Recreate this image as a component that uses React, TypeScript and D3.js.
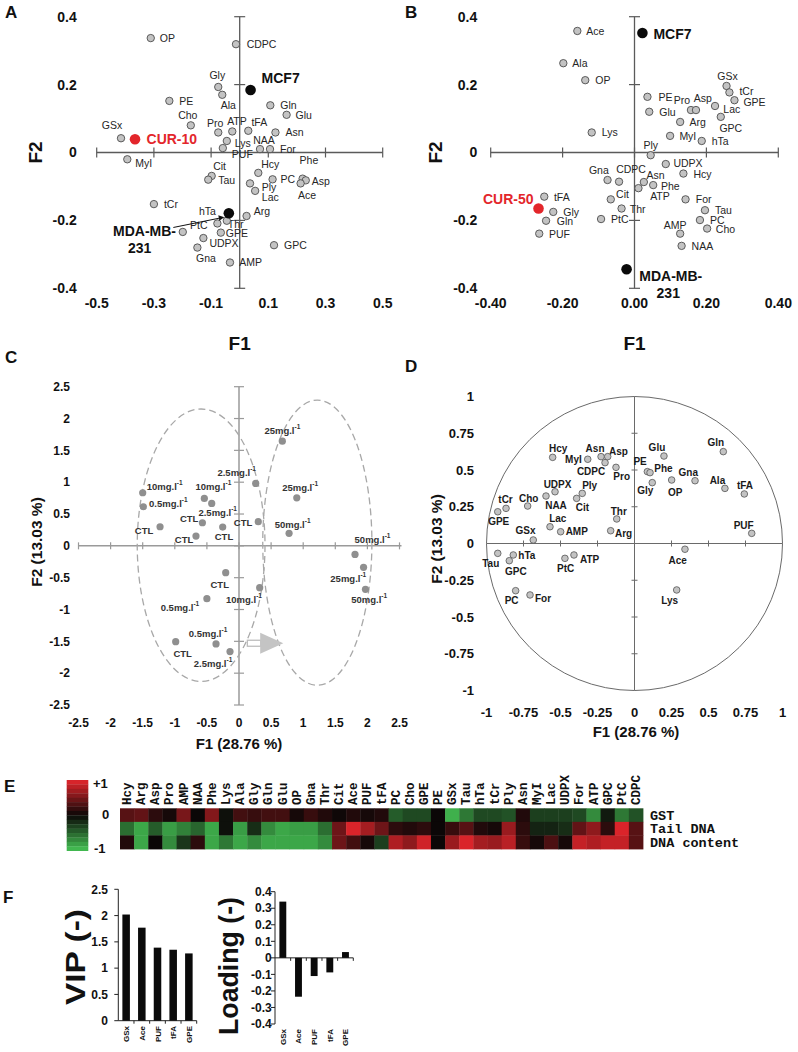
import React from 'react';
import * as d3 from 'd3';

// ---------------- DATA ----------------
// Panel A (CUR-10 biplot)
const A_NAMES = ['OP','CDPC','Gly','Ala','PE','Gln','Glu','Cho','GSx','Pro','ATP','tFA','Asn','Lys','PUF','NAA','For','MyI','Cit','Tau','Hcy','PC','Phe','Asp','Ace','Ply','Lac','tCr','Arg','hTa','Thr','PtC','GPE','UDPX','Gna','AMP','GPC'];
const A_F1 = [-0.311,-0.013,-0.075,-0.061,-0.246,0.107,0.164,-0.171,-0.415,-0.075,-0.026,0.030,0.125,-0.045,-0.059,0.071,0.106,-0.393,-0.098,-0.110,0.065,0.115,0.220,0.231,0.213,0.036,0.054,-0.300,0.024,-0.078,-0.045,-0.199,-0.066,-0.127,-0.148,-0.034,0.120];
const A_F2 = [0.337,0.319,0.193,0.170,0.152,0.139,0.111,0.080,0.042,0.059,0.062,0.064,0.059,0.034,0.013,0.010,0.010,-0.020,-0.069,-0.080,-0.060,-0.079,-0.077,-0.082,-0.091,-0.091,-0.113,-0.152,-0.187,-0.209,-0.201,-0.234,-0.236,-0.252,-0.280,-0.324,-0.273];
const A_GROUPS = ['MCF7','CUR-10','MDA-MB-231'];
const A_GROUP_F1 = [0.038,-0.366,-0.038];
const A_GROUP_F2 = [0.184,0.039,-0.179];
const A_XTICKS = [-0.5,-0.3,-0.1,0.1,0.3,0.5];
const AB_YTICKS = [0.4,0.2,0,-0.2,-0.4];

// Panel B (CUR-50 biplot)
const B_NAMES = ['Ace','Ala','OP','GSx','tCr','GPE','PE','Pro','Asp','Lac','Glu','GPC','Arg','Lys','MyI','hTa','Ply','UDPX','Hcy','Gna','CDPC','Asn','Phe','ATP','tFA','Cit','For','Gly','Thr','Tau','Gln','PtC','PC','Cho','PUF','AMP','NAA'];
const B_F1 = [-0.159,-0.198,-0.137,0.256,0.264,0.278,0.036,0.157,0.171,0.224,0.041,0.240,0.127,-0.119,0.099,0.187,0.045,0.087,0.136,-0.075,-0.043,0.026,0.052,0.011,-0.251,-0.066,0.142,-0.226,-0.036,0.196,-0.246,-0.093,0.182,0.202,-0.265,0.127,0.131];
const B_F2 = [0.358,0.263,0.213,0.196,0.177,0.154,0.164,0.125,0.125,0.137,0.120,0.105,0.090,0.059,0.049,0.034,-0.008,-0.034,-0.062,-0.081,-0.086,-0.087,-0.096,-0.105,-0.130,-0.138,-0.138,-0.175,-0.165,-0.170,-0.201,-0.196,-0.199,-0.224,-0.239,-0.239,-0.275];
const B_GROUPS = ['MCF7','CUR-50','MDA-MB-231'];
const B_GROUP_F1 = [0.022,-0.267,-0.022];
const B_GROUP_F2 = [0.352,-0.165,-0.344];
const B_XTICKS = [-0.4,-0.2,0,0.2,0.4];

// Panel C (PCA scores)
const C_LABELS = ['25','2.5','25','50','10','0.5','CTL','10','2.5','CTL','CTL','CTL','CTL','50','25','50','CTL','10','0.5','0.5','CTL','2.5'];
const C_F1 = [0.675,0.26,0.90,0.78,-1.50,-1.49,-1.23,-0.54,-0.425,-0.57,-0.67,-0.254,0.30,1.807,1.94,1.97,-0.207,0.322,-0.50,-0.358,-0.986,-0.14];
const C_F2 = [1.645,0.98,0.755,0.196,0.834,0.614,0.30,0.745,0.667,0.363,0.154,0.295,0.379,-0.134,-0.338,-0.683,-0.422,-0.657,-0.83,-1.54,-1.505,-1.66];
const C_ELL_CX = [-0.59,1.22];
const C_ELL_CY = [0.01,0.05];
const C_ELL_RX = [0.995,0.85];
const C_ELL_RY = [2.14,2.24];
const C_TICKS = [-2.5,-2,-1.5,-1,-0.5,0,0.5,1,1.5,2,2.5];

// Panel D (correlation circle)
const D_NAMES = ['Hcy','MyI','Asn','Asp','CDPC','Pro','Glu','PE','Phe','Gly','OP','Gna','Gln','Ala','tFA','PUF','UDPX','Cho','NAA','Ply','Cit','tCr','GPE','Thr','Lac','AMP','Arg','GSx','Tau','hTa','GPC','ATP','PtC','Ace','PC','For','Lys'];
const D_F1 = [-0.553,-0.316,-0.226,-0.181,-0.199,-0.125,0.199,0.087,0.105,0.120,0.251,0.409,0.600,0.611,0.742,0.792,-0.537,-0.722,-0.598,-0.353,-0.391,-0.868,-0.924,-0.120,-0.571,-0.499,-0.161,-0.684,-0.924,-0.819,-0.846,-0.409,-0.470,0.341,-0.803,-0.706,0.285];
const D_F2 = [0.586,0.573,0.591,0.591,0.550,0.518,0.595,0.489,0.482,0.414,0.432,0.427,0.625,0.375,0.337,0.069,0.352,0.255,0.323,0.341,0.307,0.239,0.216,0.167,0.114,0.080,0.087,0.024,-0.067,-0.078,-0.117,-0.078,-0.101,-0.039,-0.321,-0.350,-0.316];
const D_TICKS = [-1,-0.75,-0.5,-0.25,0,0.25,0.5,0.75,1];

// Panel E (heatmap of correlations)
const HM_NAMES = ['Hcy','Arg','Asp','Pro','AMP','NAA','Phe','Lys','Ala','Gly','Gln','Glu','OP','Gna','Thr','Cit','Ace','PUF','tFA','PC','Cho','GPE','PE','GSx','Tau','hTa','tCr','Ply','Asn','MyI','Lac','UDPX','For','ATP','GPC','PtC','CDPC'];
const HM_ROWS = ['GST','Tail DNA','DNA content'];
const HM_GST = [0.35,0.4,0.15,0.05,0.5,0.0,0.55,-0.05,0.25,0.2,0.25,0.25,0.05,0.2,0.1,0.02,0.1,0.05,0.1,-0.45,-0.35,-0.35,0.0,-0.9,-0.6,-0.35,-0.35,-0.4,0.1,-0.3,-0.3,-0.3,-0.35,-0.7,-0.1,-0.6,-0.4];
const HM_TAIL = [-0.55,-0.85,-0.45,-0.8,-0.65,-0.5,-0.85,-0.05,-0.8,-0.2,-0.7,-0.85,-0.8,-0.8,-0.55,0.45,0.95,0.7,0.45,0.15,0.1,0.15,0.0,0.2,0.35,0.1,0.05,0.65,0.15,-0.15,-0.15,-0.2,0.4,0.6,0.15,0.95,0.35];
const HM_CONTENT = [0.1,-0.85,0.0,-0.7,-0.25,0.15,-0.85,-0.6,-0.85,-0.7,-0.85,-0.85,-0.85,-0.85,-0.7,0.45,0.25,0.05,-0.3,0.75,0.6,0.9,0.0,0.65,0.95,0.7,0.65,0.8,0.2,0.05,0.3,0.05,0.85,0.75,0.85,0.85,0.35];

// Panel F (PLS)
const F_NAMES = ['GSx','Ace','PUF','tFA','GPE'];
const F_VIP = [2.02,1.77,1.39,1.35,1.28];
const F_LOADING = [0.34,-0.235,-0.11,-0.088,0.035];
const F_VIP_TICKS = [0,0.5,1,1.5,2,2.5];
const F_LOAD_TICKS = [0.4,0.3,0.2,0.1,0,-0.1,-0.2,-0.3,-0.4];

// ---------------- LAYOUT (label placement: dx, dy, anchor) ----------------
type L = [number, number, string];
const A_LBL: Record<string, L> = {
  OP:[9,0,'s'],CDPC:[10.7,0,'s'],Gly:[-1,-12,'m'],Ala:[6,10,'m'],PE:[10,0,'s'],Gln:[10,0,'s'],Glu:[9,0,'s'],
  Cho:[-3,-10,'m'],GSx:[-9,-13,'m'],Pro:[-3,-9,'m'],ATP:[4.7,-10,'m'],tFA:[11,-9,'m'],Asn:[10,0,'s'],Lys:[8,2,'s'],
  PUF:[9,6,'s'],NAA:[4,-9,'m'],For:[10,0,'s'],MyI:[8,4,'s'],Cit:[1.5,-10,'s'],Tau:[10,0,'s'],Hcy:[3,-8.6,'s'],
  PC:[8,0,'s'],Phe:[6.3,-18.6,'m'],Asp:[6,0.7,'s'],Ace:[-2.7,12,'s'],Ply:[11.7,4,'s'],Lac:[6.7,6.6,'s'],tCr:[10,0,'s'],
  Arg:[7.3,-5,'s'],hTa:[-10,-12.7,'m'],Thr:[1,3.3,'s'],PtC:[7.3,-7,'s'],GPE:[5,0,'s'],UDPX:[6,5,'s'],Gna:[-1.3,10.7,'s'],
  AMP:[9.3,0,'s'],GPC:[10,0,'s'],
};
const B_LBL: Record<string, L> = {
  Ace:[9,0,'s'],Ala:[9,0,'s'],OP:[10,0,'s'],GSx:[1,-10,'m'],tCr:[10,-1,'s'],GPE:[9,1.7,'s'],PE:[11,0,'s'],
  Pro:[-9,-10,'m'],Asp:[6.7,-11.7,'m'],Lac:[8.3,2.7,'s'],Glu:[10,0,'s'],GPC:[-1.4,10.7,'s'],Arg:[9.3,0,'s'],
  Lys:[10,0,'s'],MyI:[9.3,0,'s'],hTa:[10,0,'s'],Ply:[0,-10,'m'],UDPX:[7.6,-1,'s'],Hcy:[10,0,'s'],Gna:[-8.7,-10,'m'],
  CDPC:[12,-13,'m'],Asn:[2.7,-7,'s'],Phe:[7.7,1,'s'],ATP:[11.7,8.3,'s'],tFA:[9.7,0,'s'],Cit:[5.3,-5,'s'],For:[10.3,0,'s'],
  Gly:[10,0,'s'],Thr:[8.3,0,'s'],Tau:[10,0,'s'],Gln:[10.7,0,'s'],PtC:[10,0,'s'],PC:[10,0,'s'],Cho:[8.7,0,'s'],
  PUF:[9.7,0,'s'],AMP:[-5,-8.3,'m'],NAA:[10,0,'s'],
};
const C_LBL: L[] = [
  [0,-11,'m'],[-19,-11.6,'m'],[3.3,-10.4,'m'],[3.5,-9.3,'m'],[4,-6.7,'s'],[5.7,-4,'s'],[-6.7,3.3,'e'],[9,-12.3,'m'],
  [6,8.4,'m'],[-4,-4.4,'e'],[-2.7,3.3,'e'],[1.3,9.7,'m'],[-6,1,'e'],[17.5,-15,'m'],[-15.3,11,'m'],[3.7,10,'m'],
  [-6,11.3,'m'],[-15.7,11.6,'m'],[-7.7,8,'e'],[-8,-10.7,'m'],[7,11.6,'m'],[-17,11,'m'],
];
const D_LBL: Record<string, L> = {
  Hcy:[5.6,-9,'m'],MyI:[-6,0.7,'e'],Asn:[-6,-8.4,'m'],Asp:[1.3,-5,'s'],CDPC:[-14,9,'m'],Pro:[5.7,9.4,'m'],
  Glu:[-7,-8.7,'m'],PE:[-7.3,-10,'m'],Phe:[4.3,-4.4,'s'],Gly:[-7,8,'m'],OP:[3.6,12.3,'m'],Gna:[-6.7,-8,'m'],
  Gln:[-7.5,-9.4,'m'],Ala:[-7.5,-8.3,'m'],tFA:[0.7,-8.3,'m'],PUF:[-8,-8.3,'m'],UDPX:[2.5,-7.4,'m'],Cho:[1,-7.7,'m'],
  NAA:[10,9.7,'m'],Ply:[7.4,-8.3,'m'],Cit:[5.8,9,'m'],tCr:[-0.5,-9,'m'],GPE:[1,10,'m'],Thr:[2,-7.3,'m'],
  Lac:[7.8,-8.4,'m'],AMP:[5,0,'s'],Arg:[4.3,2.6,'s'],GSx:[-7.8,-9.3,'m'],Tau:[-7,10,'m'],hTa:[5,0.7,'s'],
  GPC:[6.5,11,'m'],ATP:[6,4.3,'s'],PtC:[0.8,10,'m'],Ace:[-7.2,11.7,'m'],PC:[-4,10,'m'],For:[5,3.3,'s'],Lys:[-7,10.7,'m'],
};

const SANS = "'Liberation Sans', Arial, Helvetica, sans-serif";
const MONO = "'Liberation Mono', 'Courier New', monospace";
const anc = (a: string) => (a === 's' ? 'start' : a === 'm' ? 'middle' : 'end');
const fmtTrim = (v: number) => String(+v.toFixed(2));

// scales
const xA = d3.scaleLinear().domain([-0.5, 0.5]).range([96.7, 382.7]);
const yA = d3.scaleLinear().domain([-0.4, 0.4]).range([288.3, 16.7]);
const xB = d3.scaleLinear().domain([-0.4, 0.4]).range([490.7, 778.3]);
const yB = yA;
const xC = d3.scaleLinear().domain([-2.5, 2.5]).range([78.5, 399.5]);
const yC = d3.scaleLinear().domain([-2.5, 2.5]).range([705, 386.7]);
const xD = d3.scaleLinear().domain([-1, 1]).range([486.5, 782.5]);
const yD = d3.scaleLinear().domain([-1, 1]).range([690.5, 396.5]);
const xHM = d3.scaleBand<string>().domain(HM_NAMES).range([120, 643]);
const yHM = d3.scaleBand<string>().domain(HM_ROWS).range([808.3, 849]);
const heat = (v: number) =>
  v >= 0 ? d3.interpolateRgb('#0b0707', '#e5262c')(v) : d3.interpolateRgb('#0b0707', '#45c354')(-v);
const xV = d3.scaleBand<string>().domain(F_NAMES).range([118.3, 196.7]).paddingInner(0.52).paddingOuter(0.26);
const yV = d3.scaleLinear().domain([0, 2.5]).range([1020.7, 889.3]);
const xL = d3.scaleBand<string>().domain(F_NAMES).range([275, 353.3]).paddingInner(0.56).paddingOuter(0.28);
const yL = d3.scaleLinear().domain([-0.4, 0.4]).range([1024, 891.7]);

function Biplot(props: any) {
  const { names, f1, f2, x, y, lbl } = props;
  return (
    <g>
      {names.map((n: string, i: number) => {
        const px = x(f1[i]);
        const py = y(f2[i]);
        const [dx, dy, a] = lbl[n] || [9, 0, 's'];
        return (
          <g key={n}>
            <text x={px + dx} y={py + dy} textAnchor={anc(a)} dominantBaseline="central" fontSize={10.5} fontFamily={SANS} fill="#262626">{n}</text>
            <circle cx={px} cy={py} r={3.7} fill="#c3c3c3" stroke="#4d4d4d" strokeWidth={0.9} />
          </g>
        );
      })}
    </g>
  );
}

function BiAxes(props: any) {
  const { x, y, xticks, xfmt, ylabX, letter, letterX, f2X } = props;
  const x0 = x(0), y0 = y(0);
  const [xmin, xmax] = x.domain();
  const stroke = '#5a5a5a';
  return (
    <g fontFamily={SANS}>
      <line x1={x0} x2={x0} y1={y(0.4)} y2={y(-0.4)} stroke={stroke} strokeWidth={1.3} />
      <line x1={x(xmin)} x2={x(xmax)} y1={y0} y2={y0} stroke={stroke} strokeWidth={1.3} />
      {xticks.map((t: number) => (
        <line key={'xt' + t} x1={x(t)} x2={x(t)} y1={y0 - 5} y2={y0 + 5} stroke={stroke} strokeWidth={1.2} />
      ))}
      {AB_YTICKS.filter((t) => t !== 0).map((t) => (
        <line key={'yt' + t} x1={x0 - 5.5} x2={x0 + 5.5} y1={y(t)} y2={y(t)} stroke={stroke} strokeWidth={1.2} />
      ))}
      {xticks.map((t: number) => (
        <text key={'xl' + t} x={x(t)} y={308} textAnchor="middle" fontSize={14} fontWeight="bold" fill="#111">{xfmt(t)}</text>
      ))}
      {AB_YTICKS.map((t) => (
        <text key={'yl' + t} x={ylabX} y={y(t)} dy="0.35em" textAnchor="end" fontSize={14} fontWeight="bold" fill="#111">{fmtTrim(t)}</text>
      ))}
      <text transform={`translate(${f2X},${y0}) rotate(-90)`} textAnchor="middle" fontSize={19} fontWeight="bold" fill="#111">F2</text>
      <text x={(x(xmin) + x(xmax)) / 2} y={350} textAnchor="middle" fontSize={19} fontWeight="bold" fill="#111">F1</text>
      <text x={letterX} y={18} fontSize={17} fontWeight="bold" fill="#111">{letter}</text>
    </g>
  );
}

function Dose(props: any) {
  const { label, x, y, a } = props;
  if (label === 'CTL') {
    return <text x={x} y={y} textAnchor={a} dominantBaseline="central" fontSize={9.5} fontWeight="bold" fill="#333" fontFamily={SANS}>CTL</text>;
  }
  return (
    <text x={x} y={y} textAnchor={a} dominantBaseline="central" fontSize={9.5} fontWeight="bold" fill="#333" fontFamily={SANS}>
      <tspan>{label}mg.l</tspan>
      <tspan dy={-4} fontSize={6.5}>-1</tspan>
    </text>
  );
}

export default function App() {
  const cx0 = xC(0), cy0 = yC(0);
  const dx0 = xD(0), dy0 = yD(0);
  const aMda = [xA(A_GROUP_F1[2]), yA(A_GROUP_F2[2])];
  const arrowY = yC(-1.53);
  return (
    <svg width={798} height={1052} style={{ position: 'absolute', left: 0, top: 0, background: '#fff' }} fontFamily={SANS}>
      <rect width={798} height={1052} fill="#fff" />

      {/* ---------- Panel A ---------- */}
      <BiAxes x={xA} y={yA} xticks={A_XTICKS} xfmt={(t: number) => String(t)} ylabX={76.7} letter="A" letterX={5} f2X={41.5} />
      <Biplot names={A_NAMES} f1={A_F1} f2={A_F2} x={xA} y={yA} lbl={A_LBL} />
      {/* groups A */}
      <circle cx={xA(A_GROUP_F1[0])} cy={yA(A_GROUP_F2[0])} r={5.3} fill="#0a0a0a" />
      <text x={xA(A_GROUP_F1[0]) + 11} y={yA(A_GROUP_F2[0]) - 12} dominantBaseline="central" fontSize={14} fontWeight="bold" fill="#111">{A_GROUPS[0]}</text>
      <circle cx={xA(A_GROUP_F1[1])} cy={yA(A_GROUP_F2[1])} r={5.3} fill="#e3262b" />
      <text x={xA(A_GROUP_F1[1]) + 11.5} y={yA(A_GROUP_F2[1])} dominantBaseline="central" fontSize={14} fontWeight="bold" fill="#e3262b">{A_GROUPS[1]}</text>
      <circle cx={aMda[0]} cy={aMda[1]} r={5.3} fill="#0a0a0a" />
      <line x1={aMda[0] - 55.5} y1={aMda[1] + 14.2} x2={aMda[0] - 9} y2={aMda[1] + 4.8} stroke="#111" strokeWidth={1} />
      <path d={`M${aMda[0] - 4.5},${aMda[1] + 3.9} L${aMda[0] - 10.5},${aMda[1] + 2} L${aMda[0] - 9.5},${aMda[1] + 7.6} Z`} fill="#111" />
      <text x={113} y={aMda[1] + 23} fontSize={14} fontWeight="bold" fill="#111">MDA-MB-</text>
      <text x={128} y={aMda[1] + 39.5} fontSize={14} fontWeight="bold" fill="#111">231</text>

      {/* ---------- Panel B ---------- */}
      <BiAxes x={xB} y={yB} xticks={B_XTICKS} xfmt={(t: number) => t.toFixed(2)} ylabX={477.3} letter="B" letterX={405} f2X={441.7} />
      <Biplot names={B_NAMES} f1={B_F1} f2={B_F2} x={xB} y={yB} lbl={B_LBL} />
      <circle cx={xB(B_GROUP_F1[0])} cy={yB(B_GROUP_F2[0])} r={5.3} fill="#0a0a0a" />
      <text x={xB(B_GROUP_F1[0]) + 11} y={yB(B_GROUP_F2[0]) + 1} dominantBaseline="central" fontSize={14} fontWeight="bold" fill="#111">{B_GROUPS[0]}</text>
      <circle cx={xB(B_GROUP_F1[1])} cy={yB(B_GROUP_F2[1])} r={5.3} fill="#e3262b" />
      <text x={xB(B_GROUP_F1[1]) - 5} y={yB(B_GROUP_F2[1]) - 10} textAnchor="end" dominantBaseline="central" fontSize={14} fontWeight="bold" fill="#e3262b">{B_GROUPS[1]}</text>
      <circle cx={xB(B_GROUP_F1[2])} cy={yB(B_GROUP_F2[2])} r={5.3} fill="#0a0a0a" />
      <text x={xB(B_GROUP_F1[2]) + 12.7} y={yB(B_GROUP_F2[2]) + 6.7} dominantBaseline="central" fontSize={14} fontWeight="bold" fill="#111">MDA-MB-</text>
      <text x={xB(B_GROUP_F1[2]) + 30} y={yB(B_GROUP_F2[2]) + 23.3} dominantBaseline="central" fontSize={14} fontWeight="bold" fill="#111">231</text>

      {/* ---------- Panel C ---------- */}
      <g>
        <text x={5} y={363} fontSize={17} fontWeight="bold" fill="#111">C</text>
        <line x1={cx0} x2={cx0} y1={yC(2.5)} y2={yC(-2.5)} stroke="#9a9a9a" strokeWidth={1.5} />
        <line x1={xC(-2.5)} x2={xC(2.5) + 2} y1={cy0} y2={cy0} stroke="#9a9a9a" strokeWidth={1.5} />
        {C_TICKS.map((t) => (
          <line key={'cxt' + t} x1={xC(t)} x2={xC(t)} y1={cy0 - 3.5} y2={cy0 + 3.5} stroke="#9a9a9a" strokeWidth={1.2} />
        ))}
        {C_TICKS.map((t) => (
          <line key={'cyt' + t} x1={cx0 - 5} x2={cx0 + 5} y1={yC(t)} y2={yC(t)} stroke="#9a9a9a" strokeWidth={1.2} />
        ))}
        {C_TICKS.map((t) => (
          <text key={'cxl' + t} x={xC(t)} y={727} textAnchor="middle" fontSize={12} fontWeight="bold" fill="#111">{String(t)}</text>
        ))}
        {C_TICKS.map((t) => (
          <text key={'cyl' + t} x={70} y={yC(t)} dy="0.35em" textAnchor="end" fontSize={12} fontWeight="bold" fill="#111">{String(t)}</text>
        ))}
        <text transform={`translate(42,542) rotate(-90)`} textAnchor="middle" fontSize={15.5} fontWeight="bold" fill="#111">F2 (13.03 %)</text>
        <text x={239} y={749} textAnchor="middle" fontSize={15} fontWeight="bold" fill="#111">F1 (28.76 %)</text>
        {C_ELL_CX.map((c, i) => (
          <ellipse key={'ell' + i} cx={xC(c)} cy={yC(C_ELL_CY[i])} rx={xC(C_ELL_RX[i]) - xC(0)} ry={yC(0) - yC(C_ELL_RY[i])}
            fill="none" stroke="#a8a8a8" strokeWidth={1.3} strokeDasharray="7 4" />
        ))}
        {/* arrow */}
        <rect x={xC(0.13)} y={arrowY - 3} width={xC(0.34) - xC(0.13)} height={6} fill="#fff" stroke="#bdbdbd" strokeWidth={1.3} />
        <path d={`M${xC(0.33)},${arrowY - 10.5} L${xC(0.69)},${arrowY} L${xC(0.33)},${arrowY + 10.5} Z`} fill="#c4c4c4" />
        {C_LABELS.map((lab, i) => {
          const px = xC(C_F1[i]);
          const py = yC(C_F2[i]);
          const [dx, dy, a] = C_LBL[i];
          return (
            <g key={'c' + i}>
              <circle cx={px} cy={py} r={3.6} fill="#8f8f8f" />
              <Dose label={lab} x={px + dx} y={py + dy} a={anc(a)} />
            </g>
          );
        })}
      </g>

      {/* ---------- Panel D ---------- */}
      <g>
        <text x={405} y={372} fontSize={17} fontWeight="bold" fill="#111">D</text>
        <ellipse cx={dx0} cy={dy0} rx={xD(1) - dx0} ry={dy0 - yD(1)} fill="none" stroke="#6a6a6a" strokeWidth={1} />
        <line x1={dx0} x2={dx0} y1={yD(1)} y2={yD(-1)} stroke="#6a6a6a" strokeWidth={1} />
        <line x1={xD(-1)} x2={xD(1)} y1={dy0} y2={dy0} stroke="#6a6a6a" strokeWidth={1} />
        {D_TICKS.filter((t) => Math.abs(t) < 1 && t !== 0).map((t) => (
          <g key={'dt' + t}>
            <line x1={xD(t)} x2={xD(t)} y1={dy0 - 3} y2={dy0 + 3} stroke="#6a6a6a" strokeWidth={1} />
            <line x1={dx0 - 3} x2={dx0 + 3} y1={yD(t)} y2={yD(t)} stroke="#6a6a6a" strokeWidth={1} />
          </g>
        ))}
        {D_TICKS.map((t) => (
          <text key={'dxl' + t} x={xD(t)} y={717} textAnchor="middle" fontSize={13} fontWeight="bold" fill="#111">{String(t)}</text>
        ))}
        {D_TICKS.map((t) => (
          <text key={'dyl' + t} x={474} y={yD(t)} dy="0.35em" textAnchor="end" fontSize={13} fontWeight="bold" fill="#111">{String(t)}</text>
        ))}
        <text transform={`translate(442,539) rotate(-90)`} textAnchor="middle" fontSize={15.5} fontWeight="bold" fill="#111">F2 (13.03 %)</text>
        <text x={636} y={737} textAnchor="middle" fontSize={15} fontWeight="bold" fill="#111">F1 (28.76 %)</text>
        {D_NAMES.map((n, i) => {
          const px = xD(D_F1[i]);
          const py = yD(D_F2[i]);
          const [ddx, ddy, a] = D_LBL[n] || [6, 0, 's'];
          return (
            <g key={'d' + n}>
              <text x={px + ddx} y={py + ddy} textAnchor={anc(a)} dominantBaseline="central" fontSize={10} fontWeight="bold" fill="#1a1a1a">{n}</text>
              <circle cx={px} cy={py} r={3.3} fill="#c3c3c3" stroke="#555" strokeWidth={0.8} />
            </g>
          );
        })}
      </g>

      {/* ---------- Panel E ---------- */}
      <g>
        <text x={4} y={792} fontSize={17} fontWeight="bold" fill="#111">E</text>
        {d3.range(16).map((k) => {
          const v = 1 - (2 * k + 1) / 16;
          return <rect key={'cb' + k} x={66.7} y={780 + (k * 70.7) / 16} width={21.6} height={70.7 / 16 + 0.3} fill={heat(v)} />;
        })}
        <text x={93} y={788} fontSize={13} fontWeight="bold" fill="#111">+1</text>
        <text x={102} y={819} fontSize={13} fontWeight="bold" fill="#111">0</text>
        <text x={94} y={853} fontSize={13} fontWeight="bold" fill="#111">-1</text>
        {[HM_GST, HM_TAIL, HM_CONTENT].map((row, r) =>
          row.map((v, c) => (
            <rect key={'hm' + r + '-' + c} x={xHM(HM_NAMES[c])!} y={yHM(HM_ROWS[r])!} width={xHM.bandwidth() + 0.4} height={yHM.bandwidth() + 0.4} fill={heat(v)} />
          ))
        )}
        {HM_NAMES.map((n) => (
          <text key={'hl' + n} transform={`translate(${xHM(n)! + xHM.bandwidth() / 2 + 4},805) rotate(-90)`} fontSize={12.5} fontWeight="bold" fontFamily={MONO} fill="#111">{n}</text>
        ))}
        {HM_ROWS.map((r) => (
          <text key={'hr' + r} x={650} y={yHM(r)! + yHM.bandwidth() / 2} dy="0.35em" fontSize={13.5} fontWeight="bold" fontFamily={MONO} fill="#111">{r}</text>
        ))}
      </g>

      {/* ---------- Panel F ---------- */}
      <g>
        <text x={3} y={903} fontSize={17} fontWeight="bold" fill="#111">F</text>
        {/* VIP */}
        <line x1={118.3} x2={118.3} y1={yV(2.5)} y2={yV(0)} stroke="#222" strokeWidth={1} />
        <line x1={118.3} x2={196.7} y1={yV(0)} y2={yV(0)} stroke="#222" strokeWidth={1} />
        {F_VIP_TICKS.map((t) => (
          <g key={'vt' + t}>
            <line x1={114.3} x2={118.3} y1={yV(t)} y2={yV(t)} stroke="#222" strokeWidth={1} />
            <text x={108} y={yV(t)} dy="0.35em" textAnchor="end" fontSize={12} fontWeight="bold" fill="#111">{String(t)}</text>
          </g>
        ))}
        {F_NAMES.map((n, i) => (
          <g key={'vb' + n}>
            <rect x={xV(n)!} y={yV(F_VIP[i])} width={xV.bandwidth()} height={yV(0) - yV(F_VIP[i])} fill="#0a0a0a" />
            <line x1={xV(n)! + xV.bandwidth() + (xV.step() - xV.bandwidth()) / 2} x2={xV(n)! + xV.bandwidth() + (xV.step() - xV.bandwidth()) / 2} y1={yV(0)} y2={yV(0) + 3} stroke="#222" />
            <text transform={`translate(${xV(n)! + xV.bandwidth() / 2 + 3},1026) rotate(-90)`} textAnchor="end" fontSize={8} fontWeight="bold" fill="#111">{n}</text>
          </g>
        ))}
        <text transform="translate(85,957) rotate(-90)" textAnchor="middle" fontSize={28} fontWeight="bold" fill="#111" textLength={96} lengthAdjust="spacingAndGlyphs">VIP (-)</text>
        {/* Loading */}
        <line x1={275} x2={275} y1={yL(0.4)} y2={yL(-0.4)} stroke="#222" strokeWidth={1} />
        <line x1={275} x2={353.3} y1={yL(0)} y2={yL(0)} stroke="#222" strokeWidth={1} />
        {F_LOAD_TICKS.map((t) => (
          <g key={'lt' + t}>
            <line x1={271} x2={275} y1={yL(t)} y2={yL(t)} stroke="#222" strokeWidth={1} />
            <text x={271.7} y={yL(t)} dy="0.35em" textAnchor="end" fontSize={12} fontWeight="bold" fill="#111">{fmtTrim(t)}</text>
          </g>
        ))}
        {F_NAMES.map((n, i) => (
          <g key={'lb' + n}>
            <rect x={xL(n)!} y={yL(Math.max(0, F_LOADING[i]))} width={xL.bandwidth()} height={Math.abs(yL(F_LOADING[i]) - yL(0))} fill="#0a0a0a" />
            <line x1={xL(n)! + xL.bandwidth() + (xL.step() - xL.bandwidth()) / 2} x2={xL(n)! + xL.bandwidth() + (xL.step() - xL.bandwidth()) / 2} y1={yL(0)} y2={yL(0) + 3} stroke="#222" />
            <text transform={`translate(${xL(n)! + xL.bandwidth() / 2 + 3},1029) rotate(-90)`} textAnchor="end" fontSize={8} fontWeight="bold" fill="#111">{n}</text>
          </g>
        ))}
        <text transform="translate(238,966) rotate(-90)" textAnchor="middle" fontSize={27} fontWeight="bold" fill="#111" textLength={138} lengthAdjust="spacingAndGlyphs">Loading (-)</text>
      </g>
    </svg>
  );
}
